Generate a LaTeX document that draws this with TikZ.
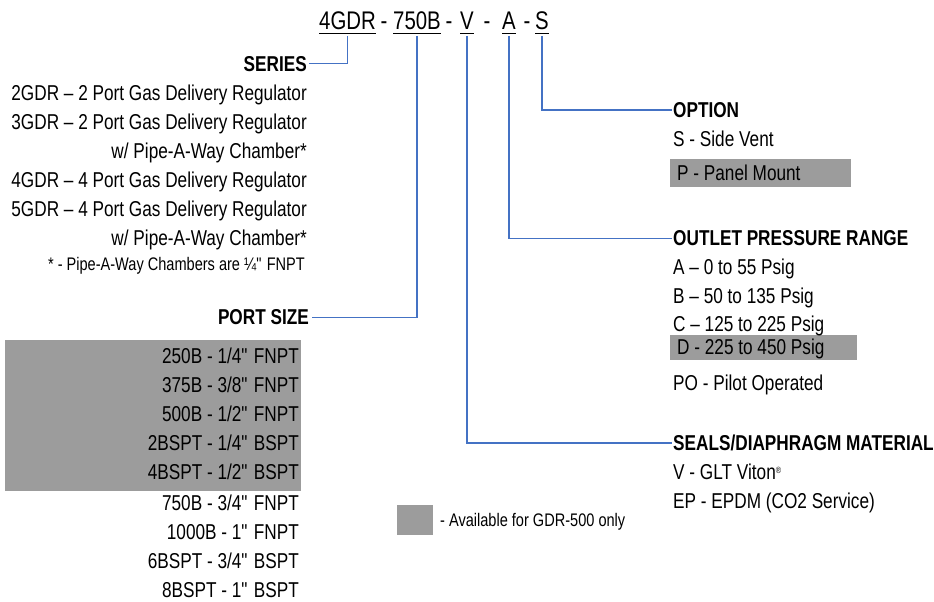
\documentclass[tikz,border=0pt]{standalone}
\usepackage{fontspec}
\setmainfont{Liberation Sans}[FakeStretch=0.8]
\definecolor{lineblue}{HTML}{4472C4}
\definecolor{shade}{HTML}{9C9C9C}
\newcommand{\qd}{\textquotedbl}
\begin{document}
\begin{tikzpicture}[x=1pt,y=-1pt,
  txt/.style={inner sep=0pt, font=\fontsize{21.5}{25}\selectfont},
  head/.style={inner sep=0pt, font=\fontsize{21.5}{25}\selectfont\bfseries},
  small/.style={inner sep=0pt, font=\fontsize{18.2}{21}\selectfont},
  ttl/.style={inner sep=0pt, font=\fontsize{25.5}{30}\selectfont, anchor=base west},
  dsh/.style={inner sep=0pt, font=\fontsize{25.5}{30}\selectfont, anchor=base},
  conn/.style={draw=lineblue, line width=1.2pt},
  uline/.style={draw=black, line width=1.2pt},
  shadebox/.style={fill=shade, draw=none}]
\useasboundingbox (0,0) rectangle (934,602);

% gray boxes
\fill[shadebox] (5,340) rectangle (301,491);
\fill[shadebox] (670,159) rectangle (851,187);
\fill[shadebox] (670,335) rectangle (857,360);
\node[shadebox, minimum width=36pt, minimum height=30pt, inner sep=0pt, anchor=north west] (legbox) at (397,505) {};

% title
\node[ttl] (t4) at (319,30) {4GDR};
\node[dsh] (d1) at (384,30) {-};
\node[ttl] (t750) at (393,30) {750B};
\node[dsh] (d2) at (449,30) {-};
\node[ttl] (tv) at (460,30) {V};
\node[dsh] (d3) at (487,30) {-};
\node[ttl] (ta) at (502,30) {A};
\node[dsh] (d4) at (527,30) {-};
\node[ttl] (ts) at (535,30) {S};
\foreach \n in {t4,t750,tv,ta,ts}{
  \draw[uline] ([yshift=-3.5pt]\n.base west) -- ([yshift=-3.5pt]\n.base east);
  \coordinate (u\n) at ([yshift=-6pt]\n.base);
}

% series
\node[head, anchor=base east] (series) at (307,71) {SERIES};
\node[txt, anchor=base east] (s1) at (307,100.5) {2GDR – 2 Port Gas Delivery Regulator};
\node[txt, anchor=base east] (s2) at (307,129.5) {3GDR – 2 Port Gas Delivery Regulator};
\node[txt, anchor=base east] (s3) at (307,158.5) {w/ Pipe-A-Way Chamber*};
\node[txt, anchor=base east] (s4) at (307,187.5) {4GDR – 4 Port Gas Delivery Regulator};
\node[txt, anchor=base east] (s5) at (307,216.5) {5GDR – 4 Port Gas Delivery Regulator};
\node[txt, anchor=base east] (s6) at (307,245.5) {w/ Pipe-A-Way Chamber*};
\node[small, anchor=base east] (s7) at (305,270) {* - Pipe-A-Way Chambers are ¼\qd{} FNPT};

% port size
\node[head, anchor=base east] (port) at (309,324.5) {PORT SIZE};
\node[txt, anchor=base east] (p1) at (299,363.5) {250B - 1/4\qd{} FNPT};
\node[txt, anchor=base east] (p2) at (299,392.5) {375B - 3/8\qd{} FNPT};
\node[txt, anchor=base east] (p3) at (299,421.5) {500B - 1/2\qd{} FNPT};
\node[txt, anchor=base east] (p4) at (299,450.5) {2BSPT - 1/4\qd{} BSPT};
\node[txt, anchor=base east] (p5) at (299,479.5) {4BSPT - 1/2\qd{} BSPT};
\node[txt, anchor=base east] (p6) at (299,510.5) {750B - 3/4\qd{} FNPT};
\node[txt, anchor=base east] (p7) at (299,539.5) {1000B - 1\qd{} FNPT};
\node[txt, anchor=base east] (p8) at (299,568.5) {6BSPT - 3/4\qd{} BSPT};
\node[txt, anchor=base east] (p9) at (299,597.5) {8BSPT - 1\qd{} BSPT};

% option
\node[head, anchor=base west] (option) at (673,117.5) {OPTION};
\node[txt, anchor=base west] (o1) at (673,146.5) {S - Side Vent};
\node[txt, anchor=base west] (o2) at (677,180.5) {P - Panel Mount};

% outlet pressure
\node[head, anchor=base west] (outlet) at (673,245.5) {OUTLET PRESSURE RANGE};
\node[txt, anchor=base west] (r1) at (673,274.5) {A – 0 to 55 Psig};
\node[txt, anchor=base west] (r2) at (673,303.5) {B – 50 to 135 Psig};
\node[txt, anchor=base west] (r3) at (673,331.5) {C – 125 to 225 Psig};
\node[txt, anchor=base west] (r4) at (677,354.5) {D - 225 to 450 Psig};
\node[txt, anchor=base west] (r5) at (673,390.5) {PO - Pilot Operated};

% seals
\node[head, anchor=base west] (seals) at (673,450.5) {SEALS/DIAPHRAGM MATERIAL};
\node[txt, anchor=base west] (m1) at (673,479.5) {V - GLT Viton\raisebox{6pt}{\fontsize{9}{9}\selectfont ®}};
\node[txt, anchor=base west] (m2) at (673,508.5) {EP - EPDM (CO2 Service)};

% legend
\node[small, anchor=base west] (legtxt) at (440,526) {- Available for GDR-500 only};

% connectors
\draw[conn] (ut4) |- ([xshift=2pt]series.east);
\draw[conn] (ut750) |- ([xshift=3pt]port.east);
\draw[conn] (utv) |- ([xshift=-1pt]seals.west);
\draw[conn] (uta) |- ([xshift=-1pt]outlet.west);
\draw[conn] (uts) |- ([xshift=-1pt]option.west);
\end{tikzpicture}
\end{document}
